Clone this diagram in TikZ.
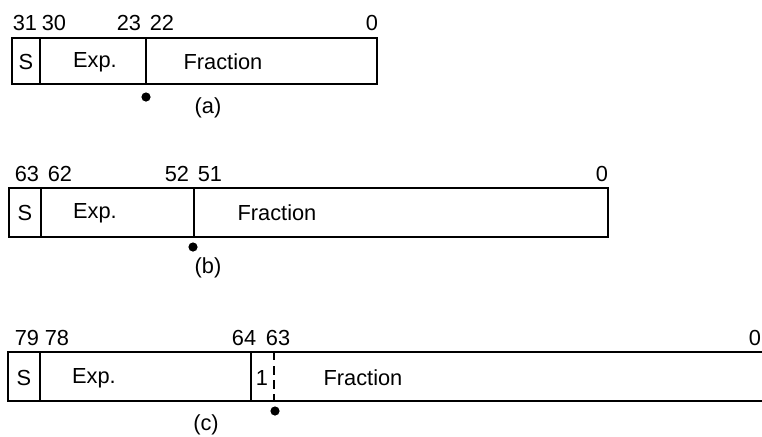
\documentclass[tikz,border=0pt]{standalone}
\usepackage{fontspec}
\setmainfont{Liberation Sans}
\begin{document}
\begin{tikzpicture}[x=0.025cm, y=-0.025cm,
  fld/.style={draw=black, line width=2pt},
  sep/.style={draw=black, line width=1.5pt},
  txt/.style={font=\fontsize{15.5pt}{18pt}\selectfont, inner sep=0pt},
  bit/.style={font=\fontsize{15.5pt}{18pt}\selectfont, inner sep=0pt},
  dot/.style={circle, fill=black, minimum size=0.23cm, inner sep=0pt}
]
\useasboundingbox (0,0) rectangle (762,436);
\clip (0,0) rectangle (762,436);
% single
\draw[fld] (12,38) rectangle (377,84);
\draw[sep] (40,38) -- (40,84);
\draw[sep] (146,38) -- (146,84);
\node[bit] at (25, 23) (a31) {31};
\node[bit] at (54, 23) (a30) {30};
\node[bit] at (129,23) (a23) {23};
\node[bit] at (162,23) (a22) {22};
\node[bit] at (372,23) (a0)  {0};
\node[txt] at (26, 62) (sa)   {S};
\node[txt] at (95, 62) (expa) {Exp.};
\node[txt] at (223,62) (fraca) {Fraction};
\node[dot] at (146,97) (pa) {};
\node[txt] at (208,108) (capa) {(a)};
% double
\draw[fld] (9,188) rectangle (608,237);
\draw[sep] (41,188) -- (41,237);
\draw[sep] (194,188) -- (194,237);
\node[bit] at (27, 174) (b63) {63};
\node[bit] at (60, 174) (b62) {62};
\node[bit] at (177,174) (b52) {52};
\node[bit] at (210,174) (b51) {51};
\node[bit] at (602,174) (b0)  {0};
\node[txt] at (25, 213) (sb)   {S};
\node[txt] at (95, 213) (expb) {Exp.};
\node[txt] at (277,213) (fracb) {Fraction};
\node[dot] at (193,247) (pb) {};
\node[txt] at (208,268) (capb) {(b)};
% extended
\draw[fld] (8,352) rectangle (790,401);
\draw[sep] (40,352) -- (40,401);
\draw[sep] (251,352) -- (251,401);
\draw[sep, dashed, dash pattern=on 6pt off 4pt] (274,352) -- (274,401);
\node[bit] at (27, 338) (c79) {79};
\node[bit] at (57, 338) (c78) {78};
\node[bit] at (244,338) (c64) {64};
\node[bit] at (278,338) (c63) {63};
\node[bit] at (755,338) (c0)  {0};
\node[txt] at (24, 378) (sc)   {S};
\node[txt] at (94, 378) (expc) {Exp.};
\node[txt] at (262,378) (one)  {1};
\node[txt] at (363,378) (fracc) {Fraction};
\node[dot] at (275,411) (pc) {};
\node[txt] at (206,425) (capc) {(c)};
\end{tikzpicture}
\end{document}
